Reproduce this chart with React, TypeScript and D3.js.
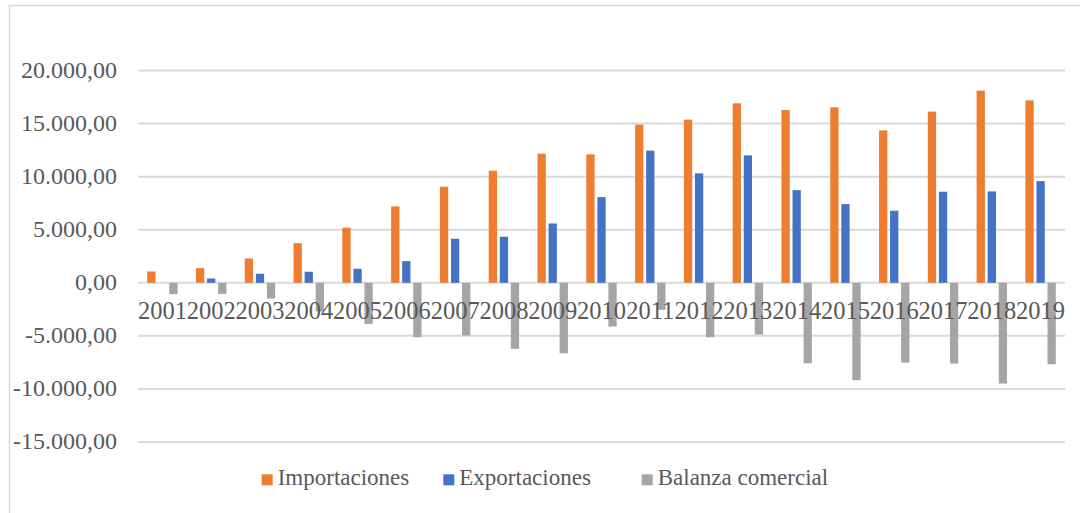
import React from "react";
import * as d3 from "d3";

const years = ["2001","2002","2003","2004","2005","2006","2007","2008","2009","2010","2011","2012","2013","2014","2015","2016","2017","2018","2019"];
const importaciones = [1070,1380,2290,3735,5190,7195,9050,10560,12165,12100,14900,15370,16910,16280,16530,14360,16125,18105,17190];
const exportaciones = [0,405,850,1040,1320,2040,4150,4340,5590,8070,12450,10310,12000,8730,7410,6790,8580,8610,9580];
const balanza = [-1075,-1050,-1480,-2700,-3870,-5130,-4970,-6225,-6640,-4120,-2550,-5130,-4875,-7580,-9180,-7515,-7610,-9495,-7675];
const seriesNames = ["Importaciones","Exportaciones","Balanza comercial"];
const seriesColors = ["#ED7D31","#4472C4","#A5A5A5"];
const yTicks = [-15000,-10000,-5000,0,5000,10000,15000,20000];

const W = 1080, H = 513;
const FONT = "'Liberation Serif', 'Times New Roman', serif";

export default function App() {
  const x = d3.scaleBand().domain(years).range([138, 1065]).paddingInner(0).paddingOuter(0);
  const xs = d3.scaleBand().domain(seriesNames).range([-15.2, 15.2]).paddingInner(0.25).paddingOuter(0);
  const y = d3.scaleLinear().domain([-15000, 20000]).range([442, 70.5]);
  const loc = d3.formatLocale({ decimal: ",", thousands: ".", grouping: [3], currency: ["", ""], minus: "-" });
  const fmt = loc.format(",.2f");
  const data = [importaciones, exportaciones, balanza];
  const legendX = [261.7, 443.3, 641.7];

  return (
    <svg width={W} height={H} style={{ position: "absolute", left: 0, top: 0, background: "#fff" }}>
      <rect x={9.5} y={5.5} width={1200} height={700} fill="#fff" stroke="#d9d9d9" strokeWidth={1.5} />
      {yTicks.map((t) => (
        <g key={t}>
          <line x1={138} x2={1065} y1={y(t)} y2={y(t)} stroke="#d9d9d9" strokeWidth={2} />
          <text x={117} y={y(t) + 7} textAnchor="end" fontFamily={FONT} fontSize={24} fill="#595959">{fmt(t)}</text>
        </g>
      ))}
      {data.map((vals, si) => (
        <g key={si} fill={seriesColors[si]}>
          {vals.map((v, i) => {
            const x0 = (x(years[i]) as number) + x.bandwidth() / 2 + (xs(seriesNames[si]) as number);
            const y0 = Math.min(y(v), y(0));
            const h = Math.abs(y(v) - y(0));
            return <rect key={i} x={x0} y={y0} width={xs.bandwidth()} height={h} />;
          })}
        </g>
      ))}
      {years.map((yr) => (
        <text key={yr} x={(x(yr) as number) + x.bandwidth() / 2} y={319} textAnchor="middle" fontFamily={FONT} fontSize={24.5} fill="#595959">{yr}</text>
      ))}
      {seriesNames.map((n, i) => (
        <g key={n}>
          <rect x={legendX[i]} y={474.3} width={11} height={11} fill={seriesColors[i]} />
          <text x={legendX[i] + 16} y={485} fontFamily={FONT} fontSize={23} fill="#595959">{n}</text>
        </g>
      ))}
    </svg>
  );
}
